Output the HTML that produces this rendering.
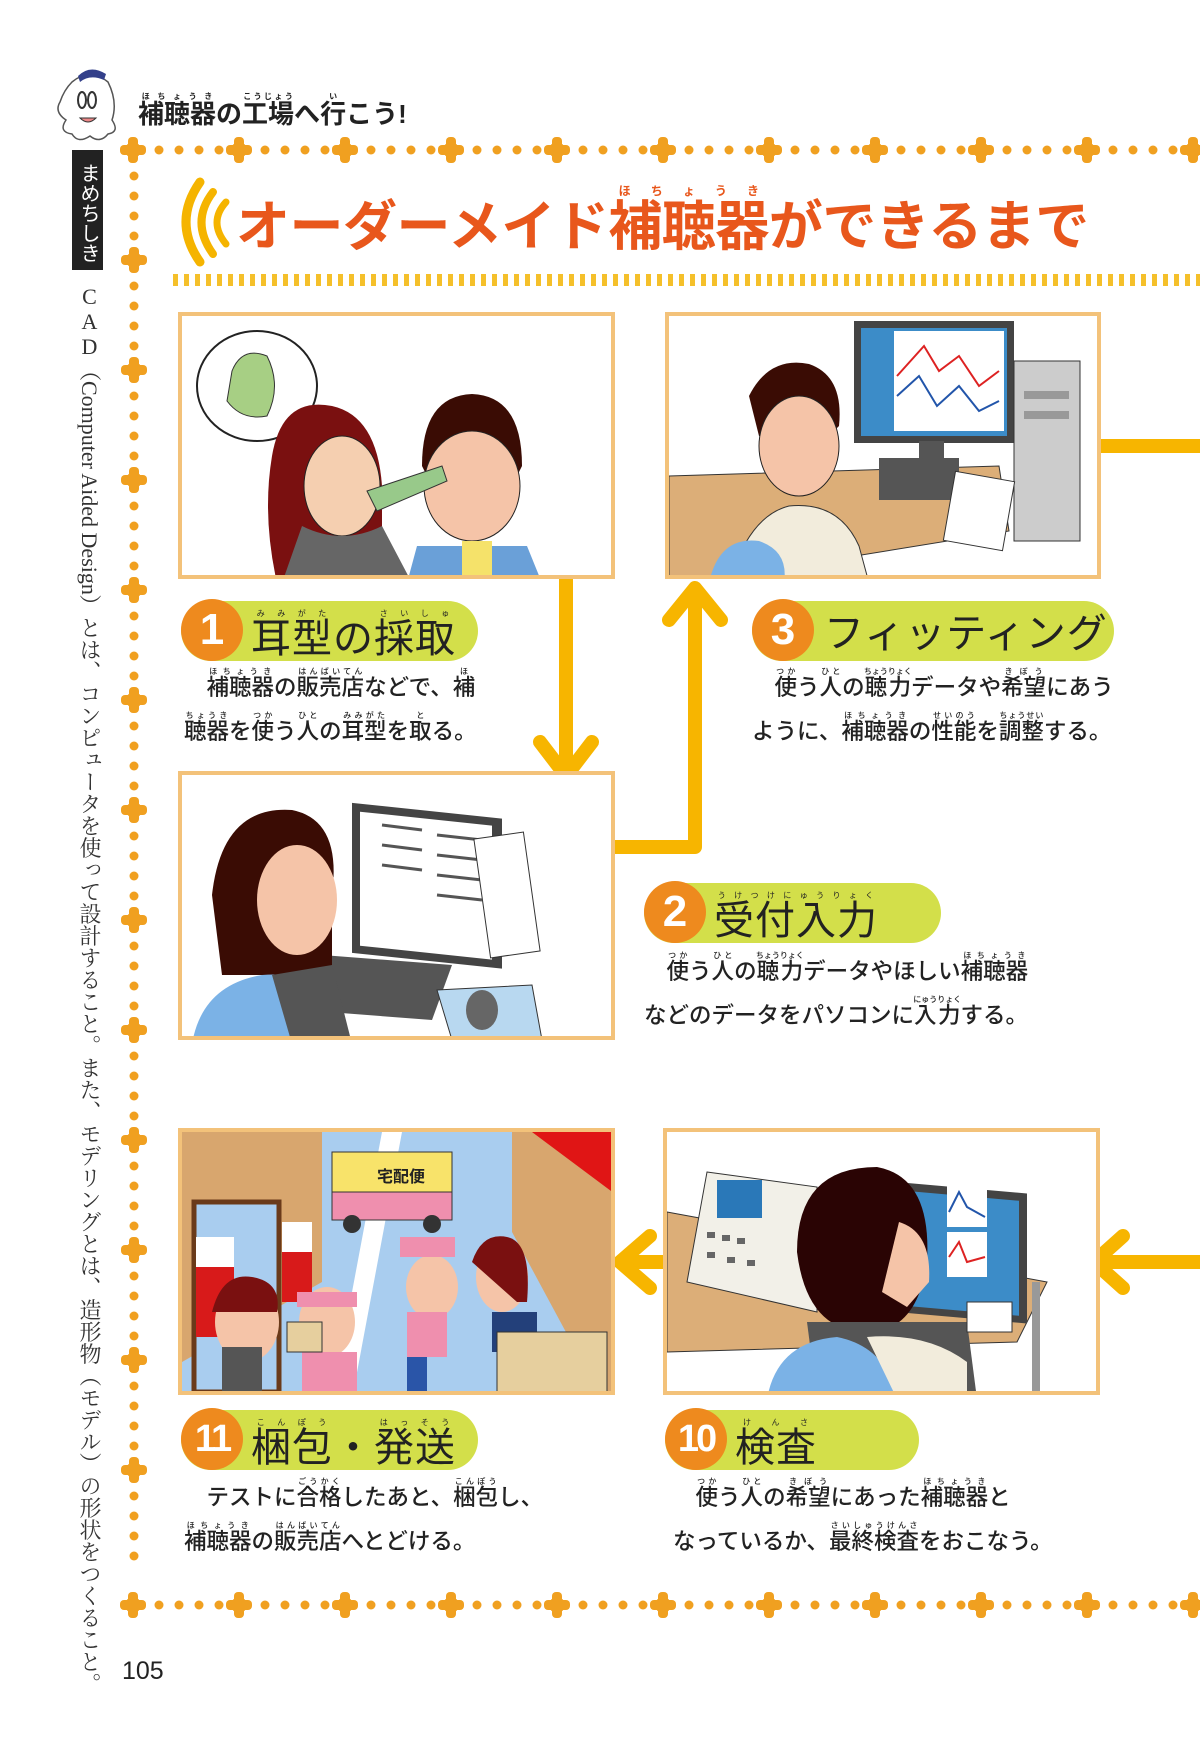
<!DOCTYPE html>
<html><head><meta charset="utf-8">
<style>
*{margin:0;padding:0;box-sizing:border-box}
body{width:1200px;height:1747px;background:#fff;position:relative;overflow:hidden;font-family:"Liberation Sans","Noto Sans CJK JP",sans-serif;color:#222}
.abs{position:absolute}
.panel{position:absolute;border:4px solid #f3c27a;background:#fff;overflow:hidden}
.pill{position:absolute;height:60px;background:#d3df4a;border-radius:30px}
.num{position:absolute;left:0;top:-2px;width:62px;height:62px;border-radius:50%;background:#ee8a1e;color:#fff;font-weight:bold;font-size:44px;line-height:62px;text-align:center;font-family:"Liberation Sans",sans-serif}
.ptxt{position:absolute;top:8px;font-size:40px;line-height:50px;color:#222;font-family:"Liberation Sans","Noto Sans CJK JP",sans-serif;letter-spacing:1px;white-space:nowrap}
.desc{position:absolute;font-size:22.5px;line-height:44px;color:#222;font-weight:500;white-space:nowrap}
rt{font-size:8px}
.up{text-orientation:upright}
</style></head><body>

<!-- ghost -->
<svg class="abs" style="left:50px;top:62px" width="80" height="85" viewBox="0 0 80 85">
<path d="M22 20 Q40 5 58 20 Q68 40 62 58 Q70 70 58 72 Q50 82 40 74 Q28 82 22 72 Q8 70 16 58 Q4 50 10 40 Q14 28 22 20Z" fill="#fff" stroke="#555" stroke-width="1.5"/>
<path d="M28 14 Q40 2 56 12 L54 18 Q40 12 30 20Z" fill="#33408a"/>
<ellipse cx="32" cy="38" rx="4" ry="8" fill="none" stroke="#333" stroke-width="2"/>
<ellipse cx="42" cy="38" rx="4" ry="8" fill="none" stroke="#333" stroke-width="2"/>
<path d="M30 56 Q38 64 46 56Z" fill="#e88" stroke="#333"/>
</svg>
<div class="abs" style="left:138px;top:92px;font-size:26px;line-height:36px;font-weight:bold;color:#222;white-space:nowrap"><ruby>補聴器<rt>ほちょうき</rt></ruby>の<ruby>工場<rt>こうじょう</rt></ruby>へ<ruby>行<rt>い</rt></ruby>こう!</div>

<!-- black label -->
<div class="abs" style="left:72px;top:150px;width:31px;height:120px;background:#222;color:#fff;writing-mode:vertical-rl;font-size:20px;line-height:31px;text-align:center;padding-top:6px">まめちしき</div>

<!-- vertical side text -->
<div class="abs" style="left:72px;top:284px;width:34px;height:1420px;writing-mode:vertical-rl;font-family:'Liberation Serif','Noto Serif CJK SC',serif;font-size:22px;line-height:34px;letter-spacing:0px;color:#333;white-space:nowrap"><span class="up">CAD</span>（Computer Aided Design）とは、コンピュータを使って設計すること。また、モデリングとは、造形物（モデル）の形状をつくること。</div>

<!-- dotted border -->
<svg class="abs" style="left:0;top:0" width="1200" height="1747">
<defs>
<g id="cr" fill="#f0a020"><rect x="-5" y="-13" width="10" height="26" rx="4"/><rect x="-13" y="-5" width="26" height="10" rx="4"/><circle r="8"/></g>
<pattern id="ph" x="133" y="135" width="106" height="30" patternUnits="userSpaceOnUse">
<circle cx="26" cy="15" r="4.5" fill="#f0a020"/><circle cx="46" cy="15" r="4.5" fill="#f0a020"/><circle cx="66" cy="15" r="4.5" fill="#f0a020"/><circle cx="86" cy="15" r="4.5" fill="#f0a020"/>
</pattern>
<pattern id="ph2" x="133" y="1590" width="106" height="30" patternUnits="userSpaceOnUse">
<circle cx="26" cy="15" r="4.5" fill="#f0a020"/><circle cx="46" cy="15" r="4.5" fill="#f0a020"/><circle cx="66" cy="15" r="4.5" fill="#f0a020"/><circle cx="86" cy="15" r="4.5" fill="#f0a020"/>
</pattern>
<pattern id="pv" x="119" y="150" width="30" height="110" patternUnits="userSpaceOnUse">
<circle cx="15" cy="26" r="4.5" fill="#f0a020"/><circle cx="15" cy="46" r="4.5" fill="#f0a020"/><circle cx="15" cy="66" r="4.5" fill="#f0a020"/><circle cx="15" cy="86" r="4.5" fill="#f0a020"/>
</pattern>
</defs>
<rect x="133" y="135" width="1067" height="30" fill="url(#ph)"/>
<rect x="133" y="1590" width="1067" height="30" fill="url(#ph2)"/>
<rect x="119" y="160" width="30" height="1430" fill="url(#pv)"/>
<g>
<use href="#cr" x="133" y="150"/><use href="#cr" x="239" y="150"/><use href="#cr" x="345" y="150"/><use href="#cr" x="451" y="150"/><use href="#cr" x="557" y="150"/><use href="#cr" x="663" y="150"/><use href="#cr" x="769" y="150"/><use href="#cr" x="875" y="150"/><use href="#cr" x="981" y="150"/><use href="#cr" x="1087" y="150"/><use href="#cr" x="1193" y="150"/>
<use href="#cr" x="133" y="1605"/><use href="#cr" x="239" y="1605"/><use href="#cr" x="345" y="1605"/><use href="#cr" x="451" y="1605"/><use href="#cr" x="557" y="1605"/><use href="#cr" x="663" y="1605"/><use href="#cr" x="769" y="1605"/><use href="#cr" x="875" y="1605"/><use href="#cr" x="981" y="1605"/><use href="#cr" x="1087" y="1605"/><use href="#cr" x="1193" y="1605"/>
<use href="#cr" x="134" y="260"/><use href="#cr" x="134" y="370"/><use href="#cr" x="134" y="480"/><use href="#cr" x="134" y="590"/><use href="#cr" x="134" y="700"/><use href="#cr" x="134" y="810"/><use href="#cr" x="134" y="920"/><use href="#cr" x="134" y="1030"/><use href="#cr" x="134" y="1140"/><use href="#cr" x="134" y="1250"/><use href="#cr" x="134" y="1360"/><use href="#cr" x="134" y="1470"/>
</g>
<!-- title waves -->
<g fill="none" stroke="#f5b400" stroke-linecap="round">
<path d="M226 202 Q208 222 226 244" stroke-width="7"/>
<path d="M213 192 Q190 222 213 254" stroke-width="8"/>
<path d="M200 182 Q172 222 200 262" stroke-width="9"/>
</g>
<!-- dashed line -->
<line x1="173" y1="280" x2="1200" y2="280" stroke="#f5c02a" stroke-width="12" stroke-dasharray="5 6"/>

<!-- connectors -->
<g stroke="#f7b500" stroke-width="14" fill="none" stroke-linecap="round" stroke-linejoin="round">
<line x1="1101" y1="446" x2="1205" y2="446" stroke-linecap="butt"/>
<line x1="566" y1="579" x2="566" y2="778"/>
<polyline points="540,742 566,776 592,742"/>
<polyline points="615,847 695,847 695,590"/>
<polyline points="669,620 695,588 721,620"/>
<line x1="1100" y1="1262" x2="1205" y2="1262" stroke-linecap="butt"/>
<polyline points="1123,1236 1094,1262 1123,1288"/>
<line x1="622" y1="1262" x2="665" y2="1262"/>
<polyline points="650,1236 620,1262 650,1288"/>
</g>
</svg>

<div class="abs" style="left:236px;top:184px;font-size:54px;line-height:68px;font-weight:bold;color:#e8571c;letter-spacing:-0.5px;white-space:nowrap">オーダーメイド<ruby>補聴器<rt style="font-size:12px;color:#e8571c">ほちょうき</rt></ruby>ができるまで</div>

<!-- Panel 1 -->
<div class="panel" style="left:178px;top:312px;width:437px;height:267px">
<svg width="437" height="267" viewBox="0 0 437 267">
<ellipse cx="75" cy="70" rx="60" ry="55" fill="#fff" stroke="#222" stroke-width="2"/>
<path d="M50 55 Q60 30 85 40 Q100 70 85 100 Q60 105 45 85Z" fill="#a7cf84" stroke="#333"/>
<path d="M90 140 Q100 80 150 90 Q195 100 200 170 L200 267 L95 267 Q80 200 90 140Z" fill="#7a1010"/>
<ellipse cx="160" cy="170" rx="38" ry="50" fill="#f5cfb0" stroke="#222"/>
<path d="M120 210 Q160 230 200 210 L230 267 L100 267Z" fill="#666"/>
<path d="M240 150 Q240 80 290 78 Q340 80 340 150 L330 170 L250 170Z" fill="#3a0c04"/>
<ellipse cx="290" cy="170" rx="48" ry="55" fill="#f5c4a8" stroke="#222"/>
<path d="M235 230 L345 230 L360 267 L225 267Z" fill="#6aa0d8"/>
<rect x="280" y="225" width="30" height="42" fill="#f5e26a"/>
<path d="M185 175 L260 150 L265 165 L195 195Z" fill="#98c98a" stroke="#333"/>
</svg></div>

<!-- Panel 3 -->
<div class="panel" style="left:665px;top:312px;width:436px;height:267px">
<svg width="436" height="267" viewBox="0 0 436 267">
<path d="M0 160 L330 150 L340 215 L20 267 L0 267Z" fill="#dcae78" stroke="#333"/>
<rect x="185" y="5" width="160" height="122" fill="#444"/>
<rect x="192" y="12" width="146" height="108" fill="#3c8cc8"/>
<rect x="225" y="15" width="110" height="100" fill="#fff"/>
<polyline points="228,60 255,30 270,55 290,40 310,70 330,55" fill="none" stroke="#d22" stroke-width="2"/>
<polyline points="228,80 250,60 268,90 290,70 310,95 330,85" fill="none" stroke="#25a" stroke-width="2"/>
<rect x="250" y="125" width="25" height="20" fill="#555"/>
<rect x="210" y="142" width="80" height="42" fill="#555"/>
<rect x="345" y="45" width="66" height="180" fill="#ccc" stroke="#333"/>
<rect x="355" y="75" width="45" height="8" fill="#999"/><rect x="355" y="95" width="45" height="8" fill="#999"/>
<rect x="280" y="160" width="60" height="70" fill="#fff" stroke="#333" transform="rotate(10 310 195)"/>
<path d="M80 80 Q100 40 140 48 Q175 60 170 110 L150 130 L90 120Z" fill="#3a0c04"/>
<ellipse cx="130" cy="130" rx="40" ry="50" fill="#f5c4a8" stroke="#222"/>
<path d="M60 267 Q80 200 120 190 Q170 185 190 230 L200 267Z" fill="#f2ecdc" stroke="#333"/>
<path d="M40 267 Q50 220 90 225 Q120 235 115 267Z" fill="#7bb2e6"/>
</svg></div>

<!-- Labels 1,3 -->
<div class="pill" style="left:181px;top:601px;width:297px"><div class="num">1</div><div class="ptxt" style="left:70px"><ruby>耳型<rt>みみがた</rt></ruby>の<ruby>採取<rt>さいしゅ</rt></ruby></div></div>
<div class="desc" style="left:184px;top:666px">　<ruby>補聴器<rt>ほちょうき</rt></ruby>の<ruby>販売店<rt>はんばいてん</rt></ruby>などで、<ruby>補<rt>ほ</rt></ruby><br><ruby>聴器<rt>ちょうき</rt></ruby>を<ruby>使<rt>つか</rt></ruby>う<ruby>人<rt>ひと</rt></ruby>の<ruby>耳型<rt>みみがた</rt></ruby>を<ruby>取<rt>と</rt></ruby>る。</div>

<div class="pill" style="left:752px;top:601px;width:362px"><div class="num">3</div><div class="ptxt" style="left:72px">フィッティング</div></div>
<div class="desc" style="left:752px;top:666px">　<ruby>使<rt>つか</rt></ruby>う<ruby>人<rt>ひと</rt></ruby>の<ruby>聴力<rt>ちょうりょく</rt></ruby>データや<ruby>希望<rt>きぼう</rt></ruby>にあう<br>ように、<ruby>補聴器<rt>ほちょうき</rt></ruby>の<ruby>性能<rt>せいのう</rt></ruby>を<ruby>調整<rt>ちょうせい</rt></ruby>する。</div>

<!-- Panel 2 -->
<div class="panel" style="left:178px;top:771px;width:437px;height:269px">
<svg width="437" height="269" viewBox="0 0 437 269">
<rect x="170" y="10" width="150" height="150" fill="#444" transform="skewY(6)"/>
<rect x="178" y="18" width="132" height="134" fill="#fff" transform="skewY(6)"/>
<g stroke="#555" stroke-width="3"><line x1="200" y1="50" x2="240" y2="55"/><line x1="200" y1="70" x2="240" y2="75"/><line x1="200" y1="90" x2="240" y2="95"/><line x1="255" y1="60" x2="300" y2="65"/><line x1="255" y1="80" x2="300" y2="85"/><line x1="255" y1="100" x2="300" y2="105"/><line x1="255" y1="120" x2="300" y2="125"/></g>
<rect x="300" y="60" width="50" height="120" fill="#fff" stroke="#333" transform="rotate(-8 325 120)"/>
<path d="M140 180 L270 190 L250 245 L120 235Z" fill="#555"/>
<path d="M255 215 L350 210 L360 265 L270 265Z" fill="#b8d8f0" stroke="#333"/>
<ellipse cx="300" cy="235" rx="16" ry="20" fill="#666"/>
<path d="M30 120 Q40 30 110 35 Q160 45 150 120 L150 200 L40 200Z" fill="#3a0c04"/>
<ellipse cx="115" cy="125" rx="40" ry="55" fill="#f5c4a8"/>
<path d="M10 269 Q20 210 80 200 Q140 195 160 240 L170 269Z" fill="#7bb2e6"/>
<path d="M90 200 L150 190 L170 269 L110 269Z" fill="#555"/>
</svg></div>

<div class="pill" style="left:644px;top:883px;width:297px"><div class="num">2</div><div class="ptxt" style="left:70px"><ruby>受付入力<rt>うけつけにゅうりょく</rt></ruby></div></div>
<div class="desc" style="left:644px;top:950px">　<ruby>使<rt>つか</rt></ruby>う<ruby>人<rt>ひと</rt></ruby>の<ruby>聴力<rt>ちょうりょく</rt></ruby>データやほしい<ruby>補聴器<rt>ほちょうき</rt></ruby><br>などのデータをパソコンに<ruby>入力<rt>にゅうりょく</rt></ruby>する。</div>

<!-- Panel 11 -->
<div class="panel" style="left:178px;top:1128px;width:437px;height:267px">
<svg width="437" height="267" viewBox="0 0 437 267">
<rect width="437" height="267" fill="#a9cdef"/>
<path d="M0 0 L140 0 L140 150 L0 230Z" fill="#d8a66e"/>
<rect x="12" y="70" width="85" height="190" fill="#a9cdef" stroke="#6a3a1a" stroke-width="5"/>
<path d="M330 0 L437 0 L437 267 L420 267 L330 100Z" fill="#d8a66e"/>
<path d="M350 0 L437 0 L437 65Z" fill="#e01515"/>
<path d="M200 0 L220 0 L170 267 L150 267Z" fill="#fff"/>
<rect x="14" y="105" width="38" height="100" fill="#fff"/><rect x="14" y="135" width="38" height="70" fill="#d81a1a"/>
<rect x="100" y="90" width="30" height="80" fill="#fff"/><rect x="100" y="120" width="30" height="50" fill="#d81a1a"/>
<rect x="150" y="20" width="120" height="45" fill="#f8e36a" stroke="#333"/>
<rect x="150" y="60" width="120" height="28" fill="#ef8fae" stroke="#333"/>
<text x="195" y="50" font-size="16" font-weight="bold" fill="#222" font-family="Liberation Sans,Noto Sans CJK JP,sans-serif">宅配便</text>
<circle cx="170" cy="92" r="9" fill="#333"/><circle cx="250" cy="92" r="9" fill="#333"/>
<ellipse cx="65" cy="190" rx="32" ry="40" fill="#f5c4a8"/><path d="M30 180 Q40 140 70 145 Q100 150 95 180Z" fill="#7a1010"/>
<rect x="40" y="215" width="40" height="52" fill="#555"/>
<ellipse cx="145" cy="190" rx="28" ry="35" fill="#f5c4a8"/><path d="M115 160 L175 160 L175 175 L115 175Z" fill="#ef8fae"/>
<rect x="120" y="220" width="55" height="47" fill="#ef8fae"/>
<rect x="105" y="190" width="35" height="30" fill="#e6cf9e" stroke="#333"/>
<ellipse cx="250" cy="155" rx="26" ry="32" fill="#f5c4a8"/><rect x="218" y="105" width="55" height="20" fill="#ef8fae"/>
<rect x="225" y="180" width="40" height="45" fill="#ef8fae"/><rect x="225" y="225" width="20" height="35" fill="#2a55a8"/>
<ellipse cx="320" cy="145" rx="26" ry="35" fill="#f5c4a8"/><path d="M290 130 Q300 100 325 105 Q350 110 345 170 L335 170Z" fill="#7a1010"/>
<rect x="310" y="180" width="45" height="40" fill="#23407a"/>
<rect x="315" y="200" width="110" height="67" fill="#e6cf9e" stroke="#333"/>
</svg></div>

<!-- Panel 10 -->
<div class="panel" style="left:663px;top:1128px;width:437px;height:267px">
<svg width="437" height="267" viewBox="0 0 437 267">
<path d="M0 80 L380 150 L350 210 L0 220Z" fill="#dcae78" stroke="#333"/>
<rect x="365" y="150" width="8" height="117" fill="#999"/>
<path d="M40 40 L150 55 L150 180 L20 150Z" fill="#f2f0e8" stroke="#333"/>
<rect x="50" y="48" width="45" height="38" fill="#2a78b8"/>
<g fill="#666"><rect x="40" y="100" width="8" height="6"/><rect x="55" y="103" width="8" height="6"/><rect x="70" y="106" width="8" height="6"/><rect x="40" y="120" width="8" height="6"/><rect x="60" y="125" width="8" height="6"/><rect x="80" y="128" width="8" height="6"/></g>
<rect x="210" y="30" width="150" height="130" fill="#444" transform="skewY(5)"/>
<rect x="220" y="38" width="132" height="115" fill="#3c8cc8" transform="skewY(5)"/>
<rect x="280" y="50" width="40" height="45" fill="#fff"/><rect x="280" y="100" width="40" height="45" fill="#fff"/>
<polyline points="282,80 292,60 300,75 318,85" fill="none" stroke="#25a" stroke-width="2"/>
<polyline points="282,125 292,110 300,130 318,125" fill="none" stroke="#d22" stroke-width="2"/>
<path d="M130 120 Q130 35 210 35 Q265 45 260 130 Q250 200 200 200 Q140 200 130 120Z" fill="#2a0404"/>
<path d="M232 90 Q265 100 262 150 L240 175 L215 160Z" fill="#f5c4a8"/>
<path d="M140 190 L300 190 L310 267 L150 267Z" fill="#555"/>
<path d="M100 267 Q110 210 170 205 Q220 215 230 267Z" fill="#7bb2e6"/>
<path d="M200 205 Q260 200 300 230 L300 267 L230 267Z" fill="#f2ecdc"/>
<rect x="300" y="170" width="45" height="30" fill="#fff" stroke="#333"/>
</svg></div>

<div class="pill" style="left:181px;top:1410px;width:297px"><div class="num" style="font-size:38px;letter-spacing:-3px">11</div><div class="ptxt" style="left:70px"><ruby>梱包<rt>こんぽう</rt></ruby>・<ruby>発送<rt>はっそう</rt></ruby></div></div>
<div class="desc" style="left:184px;top:1476px">　テストに<ruby>合格<rt>ごうかく</rt></ruby>したあと、<ruby>梱包<rt>こんぽう</rt></ruby>し、<br><ruby>補聴器<rt>ほちょうき</rt></ruby>の<ruby>販売店<rt>はんばいてん</rt></ruby>へとどける。</div>

<div class="pill" style="left:665px;top:1410px;width:254px"><div class="num" style="font-size:38px;letter-spacing:-3px">10</div><div class="ptxt" style="left:70px"><ruby>検査<rt>けんさ</rt></ruby></div></div>
<div class="desc" style="left:673px;top:1476px">　<ruby>使<rt>つか</rt></ruby>う<ruby>人<rt>ひと</rt></ruby>の<ruby>希望<rt>きぼう</rt></ruby>にあった<ruby>補聴器<rt>ほちょうき</rt></ruby>と<br>なっているか、<ruby>最終検査<rt>さいしゅうけんさ</rt></ruby>をおこなう。</div>

<div class="abs" style="left:122px;top:1657px;font-size:25px;color:#222">105</div>
</body></html>
